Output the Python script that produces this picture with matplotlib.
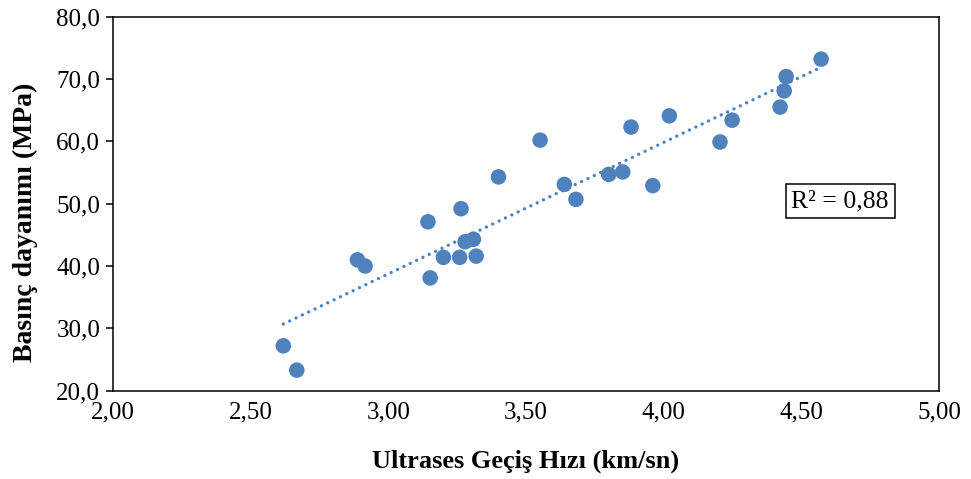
import numpy as np
import matplotlib
matplotlib.use("Agg")
import matplotlib.pyplot as plt
from matplotlib.ticker import FuncFormatter

plt.rcParams['font.family'] = ['Liberation Serif', 'DejaVu Serif']

velocity = [2.619, 2.668, 2.888, 2.916, 3.144, 3.152, 3.200, 3.259, 3.264,
            3.279, 3.309, 3.319, 3.400, 3.551, 3.639, 3.681, 3.800, 3.851,
            3.881, 3.960, 4.020, 4.204, 4.248, 4.422, 4.437, 4.444, 4.571]
strength = [27.2, 23.3, 41.0, 40.0, 47.1, 38.1, 41.4, 41.4, 49.2,
            43.9, 44.3, 41.6, 54.3, 60.2, 53.1, 50.7, 54.7, 55.1,
            62.3, 52.9, 64.1, 59.9, 63.4, 65.5, 68.1, 70.4, 73.2]
r2_text = "R² = 0,88"
x_label = "Ultrases Geçiş Hızı (km/sn)"
y_label = "Basınç dayanımı (MPa)"

color = '#4F81BD'

fig = plt.figure(figsize=(9.71, 4.79), dpi=100)
ax = fig.add_axes([0.1161, 0.1843, 0.9674 - 0.1161, 0.9651 - 0.1843])

ax.scatter(velocity, strength, s=125, color=color, edgecolors='none', zorder=3)

coef = np.polyfit(velocity, strength, 1)
xs = np.array([min(velocity), max(velocity)])
ax.plot(xs, np.polyval(coef, xs), color=color, lw=2.4,
        linestyle=(0, (0.01, 2.1)), dash_capstyle='round', zorder=2)

ax.set_xlim(2.0, 5.0)
ax.set_ylim(20, 80)
ax.set_xticks(np.arange(2.0, 5.01, 0.5))
ax.set_yticks(np.arange(20, 80.1, 10))
ax.xaxis.set_major_formatter(FuncFormatter(lambda v, p: f"{v:.2f}".replace('.', ',')))
ax.yaxis.set_major_formatter(FuncFormatter(lambda v, p: f"{v:.1f}".replace('.', ',')))

for s in ax.spines.values():
    s.set_linewidth(1.1)
    s.set_color('black')
ax.tick_params(axis='y', direction='out', length=5, width=1.1, labelsize=18, pad=4)
ax.tick_params(axis='x', length=0, labelsize=18, pad=8)

ax.set_xlabel(x_label, fontsize=19, fontweight='bold')
ax.set_ylabel(y_label, fontsize=20, fontweight='bold')
ax.xaxis.set_label_coords(0.5, -0.158)
ax.yaxis.set_label_coords(-0.090, 0.45)

ax.text(0.880, 0.507, r2_text, transform=ax.transAxes, ha='center', va='center',
        fontsize=18.5,
        bbox=dict(boxstyle='square,pad=0.22', facecolor='white', edgecolor='black', linewidth=1.1))

fig.savefig('out.png', dpi=100)
